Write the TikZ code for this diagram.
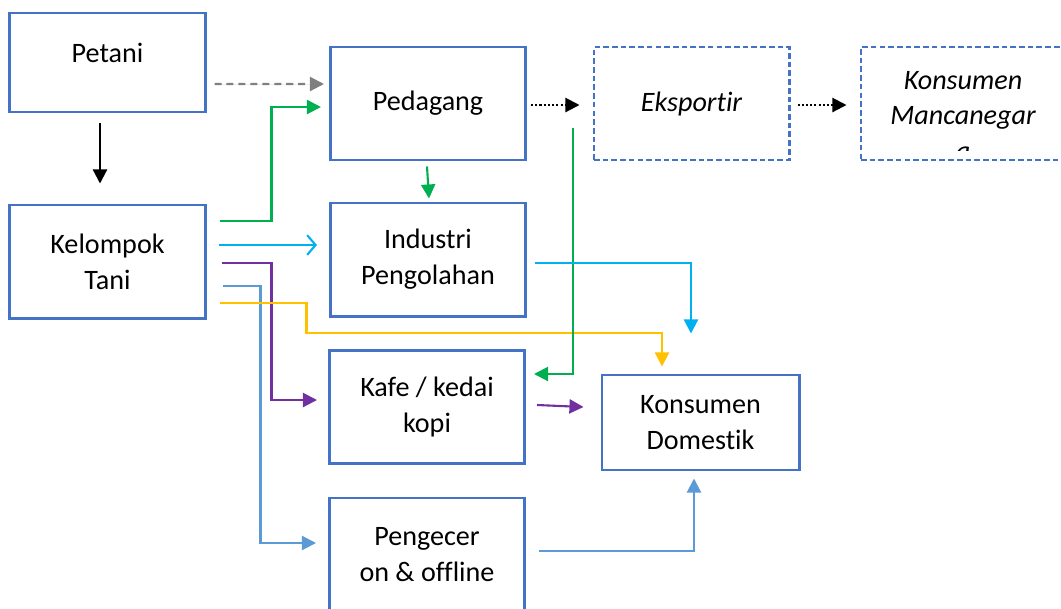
\documentclass[tikz,border=0pt]{standalone}
\usepackage{fontspec}
\setmainfont[Ligatures=NoCommon]{Carlito}
\usepackage{tikz}
\usetikzlibrary{arrows.meta,calc,positioning}
\definecolor{ChainBlue}{HTML}{4472C4}
\definecolor{ChainGreen}{HTML}{00B050}
\definecolor{ChainCyan}{HTML}{00B0F0}
\definecolor{ChainPurple}{HTML}{7030A0}
\definecolor{ChainSky}{HTML}{5B9BD5}
\definecolor{ChainGold}{HTML}{FFC000}
\definecolor{ChainGray}{HTML}{7F7F7F}
\tikzset{
    % Base box style
    chainbox/.style={
        draw=ChainBlue,
        fill=white,
        line width=2.1pt,
        minimum width=4.875cm,
        minimum height=2.825cm,
        align=center,
        inner sep=2pt,
        font=\fontsize{20}{25.5}\selectfont
    },
    % Export side box (dashed)
    exportbox/.style={
        chainbox,
        dash pattern=on 4pt off 2.2pt,
        font=\fontsize{20}{25.5}\selectfont\itshape
    },
    % Arrow styles
    flowarrow/.style={
        -{Triangle[length=10pt,width=10pt]},
        line width=1.5pt
    },
    openarrow/.style={
        -{Straight Barb[length=6pt,width=14pt]},
        line width=1.5pt
    },
    dotarrow/.style={
        flowarrow,
        draw=black,
        dash pattern=on 1.5pt off 1.5pt
    }
}
\begin{document}
\begin{tikzpicture}[x=0.025cm,y=-0.025cm]
    \clip (0,0) rectangle (1061,608);

    \node[chainbox, minimum height=2.475cm, text depth=0.48cm] (petani) at (107.5,62.5) {Petani};
    \node[chainbox] (kt) at (107.5,261.5) {Kelompok\\Tani};
    \node[chainbox] (ped) at (428,103.5) {Pedagang};
    \node[exportbox] (eks) at (691.5,103.5) {Eksportir};
    \node[exportbox, minimum width=5.1cm,
        path picture={
            \clip ($(path picture bounding box.south west)+(0,-10)$) rectangle (path picture bounding box.north east);
            \node[anchor=north, inner sep=0pt, align=center,
            font=\fontsize{20}{25.5}\selectfont\itshape] (mcntext)
            at ($(path picture bounding box.north)+(0,11)$) {Konsumen\\Mancanegar\\a};}]
        (mcn) at (963,103.5) {};
    \node[chainbox] (ind) at (428,259.5) {Industri\\Pengolahan};
    \node[chainbox] (kafe) at (427,407) {Kafe / kedai\\kopi};
    \node[chainbox, minimum width=4.925cm, minimum height=2.375cm] (kd) at (700.5,422.5) {Konsumen\\Domestik};
    \node[chainbox] (pgc) at (427,554.5) {Pengecer\\on \& offline};

    \draw[flowarrow, draw=black] ($(petani.south)+(-7.5,10)$) -- ($(kt.north)+(-7.5,-20)$);
    \draw[flowarrow, draw=ChainGray, fill=ChainGray, dash pattern=on 5pt off 3.5pt] ($(petani.east)+(8,21.5)$) -- ($(ped.west)+(-5,-19.5)$);
    \draw[flowarrow, draw=ChainGreen] ($(kt.east)+(13,-40.5)$) -- ++(52,0) |- ($(ped.west)+(-8,3.5)$);
    \draw[openarrow, draw=ChainCyan] ($(kt.east)+(12,-16.5)$) -- ($(ind.west)+(-12,-14.5)$);
    \draw[flowarrow, draw=ChainPurple] ($(kt.east)+(15,1.5)$) -- ++(50,0) |- ($(kafe.west)+(-11,-7)$);
    \draw[flowarrow, draw=ChainSky] ($(kt.east)+(16,24.5)$) -- ++(38,0) |- ($(pgc.west)+(-12,-11.5)$);
    \draw[flowarrow, draw=ChainGold] ($(kt.east)+(13,41.5)$) -- ++(87,0) -- ++(0,30) -| ($(kd.north)+(-38.5,-7)$);

    \draw[flowarrow, draw=ChainGreen] ($(ped.south)+(-1,5)$) -- ($(ind.north)+(1,-3)$);
    \draw[flowarrow, draw=ChainGreen] ($(ped.east)+(46,24.5)$) |- ($(kafe.east)+(8,-33)$);
    \draw[flowarrow, draw=ChainCyan] ($(ind.east)+(8,3.5)$) -| ($(kd.north)+(-9.5,-40)$);
    \draw[flowarrow, draw=ChainPurple] ($(kafe.east)+(11,-2)$) -- ($(kd.west)+(-17,-15.5)$);
    \draw[flowarrow, draw=ChainSky] ($(pgc.east)+(13,-3.5)$) -| ($(kd.south)+(-6.5,7)$);

    \draw[dotarrow] ($(ped.east)+(4,1.5)$) -- ($(eks.west)+(-13,1.5)$);
    \draw[dotarrow] ($(eks.east)+(7,1.5)$) -- ($(mcn.west)+(-13,1.5)$);
\end{tikzpicture}
\end{document}
